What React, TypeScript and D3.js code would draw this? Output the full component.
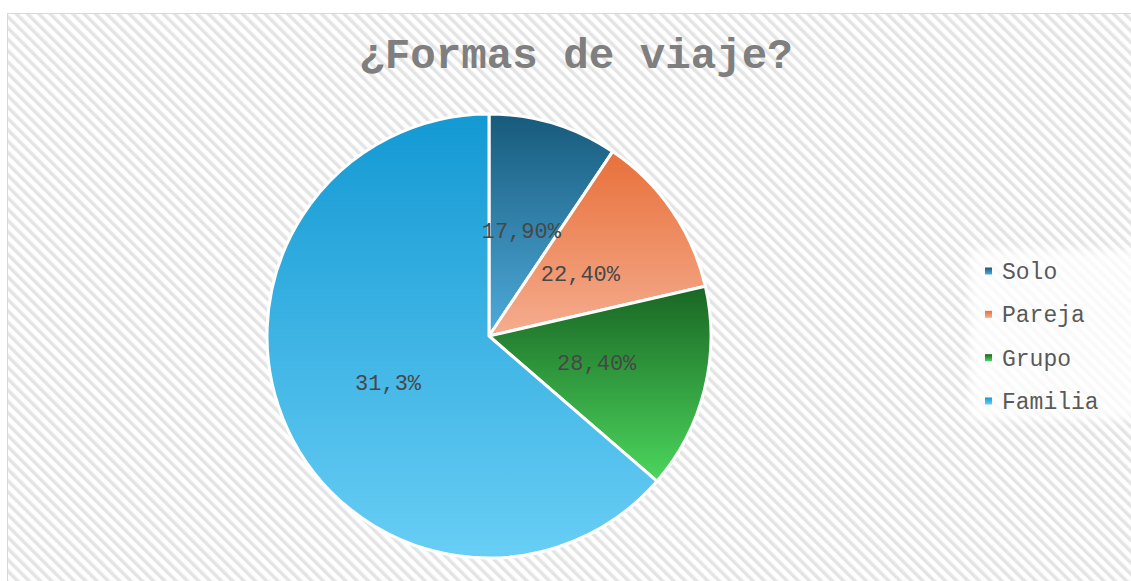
import React, { useEffect, useRef } from "react";
import * as d3 from "d3";

// slice shares
const categories = ["Solo", "Pareja", "Grupo", "Familia"];
const shares = [9.4, 12.0, 14.95, 63.65];
const labels = ["17,90%", "22,40%", "28,40%", "31,3%"];
const gradTop = ["#175a7c", "#e8703a", "#196623", "#1399d3"];
const gradBottom = ["#4fabdb", "#f5ad8f", "#4cd65d", "#68cef5"];

const W = 1131;
const H = 581;

export default function App() {
  const ref = useRef<SVGSVGElement | null>(null);

  useEffect(() => {
    if (!ref.current) return;
    const svg = d3.select(ref.current);
    svg.selectAll("*").remove();

    const defs = svg.append("defs");

    // diagonal hatch background (downward diagonal)
    const pat = defs
      .append("pattern")
      .attr("id", "hatch")
      .attr("patternUnits", "userSpaceOnUse")
      .attr("width", 8)
      .attr("height", 8)
      .attr("patternTransform", "rotate(-45)");
    pat.append("rect").attr("width", 8).attr("height", 8).attr("fill", "#ffffff");
    pat
      .append("rect")
      .attr("width", 3.5)
      .attr("height", 8)
      .attr("fill", "#e4e4e4");

    categories.forEach((c, i) => {
      const g = defs
        .append("linearGradient")
        .attr("id", "g" + i)
        .attr("x1", 0)
        .attr("y1", 0)
        .attr("x2", 0)
        .attr("y2", 1);
      g.append("stop").attr("offset", "0%").attr("stop-color", gradTop[i]);
      g.append("stop").attr("offset", "100%").attr("stop-color", gradBottom[i]);
    });

    const blur = defs.append("filter").attr("id", "soft").attr("x", "-20%").attr("y", "-20%").attr("width", "140%").attr("height", "140%");
    blur.append("feGaussianBlur").attr("stdDeviation", 5);

    // chart area
    svg.append("rect").attr("width", W).attr("height", H).attr("fill", "#ffffff");
    svg
      .append("rect")
      .attr("x", 7.5)
      .attr("y", 13.5)
      .attr("width", W)
      .attr("height", H)
      .attr("fill", "url(#hatch)")
      .attr("stroke", "#d9d9d9")
      .attr("stroke-width", 1);

    // title
    svg
      .append("text")
      .attr("x", 576)
      .attr("y", 68)
      .attr("text-anchor", "middle")
      .attr("font-family", "'Liberation Mono', 'Courier New', monospace")
      .attr("font-weight", "bold")
      .attr("font-size", 42.5)
      .attr("fill", "#7f7f7f")
      .text("¿Formas de viaje?");

    // pie
    const cx = 489;
    const cy = 336;
    const R = 222;
    const pie = d3.pie<number>().sort(null).value((d) => d);
    const arc = d3.arc<d3.PieArcDatum<number>>().innerRadius(0).outerRadius(R);
    const arcs = pie(shares);

    const gPie = svg.append("g").attr("transform", `translate(${cx},${cy})`);
    gPie
      .selectAll("path")
      .data(arcs)
      .enter()
      .append("path")
      .attr("d", arc)
      .attr("fill", (d, i) => `url(#g${i})`)
      .attr("stroke", "#ffffff")
      .attr("stroke-width", 3)
      .attr("stroke-linejoin", "round");

    gPie
      .selectAll("text")
      .data(arcs)
      .enter()
      .append("text")
      .attr("x", (d) => arc.centroid(d)[0])
      .attr("y", (d) => arc.centroid(d)[1])
      .attr("dy", "0.35em")
      .attr("text-anchor", "middle")
      .attr("font-family", "'Liberation Mono', 'Courier New', monospace")
      .attr("font-size", 22)
      .attr("fill", "#474747")
      .text((d, i) => labels[i]);

    // legend
    const legY = d3
      .scalePoint<string>()
      .domain(categories)
      .range([271, 401]);

    svg
      .append("rect")
      .attr("x", 970)
      .attr("y", 250)
      .attr("width", 175)
      .attr("height", 170)
      .attr("fill", "#ffffff")
      .attr("opacity", 0.8)
      .attr("filter", "url(#soft)");

    const leg = svg
      .selectAll("g.leg")
      .data(categories)
      .enter()
      .append("g")
      .attr("class", "leg")
      .attr("transform", (d) => `translate(985,${legY(d)})`);
    leg
      .append("rect")
      .attr("x", 0)
      .attr("y", -3.5)
      .attr("width", 7)
      .attr("height", 7)
      .attr("fill", (d, i) => `url(#g${i})`);
    leg
      .append("text")
      .attr("x", 17)
      .attr("y", 0)
      .attr("dy", "0.35em")
      .attr("font-family", "'Liberation Mono', 'Courier New', monospace")
      .attr("font-size", 23)
      .attr("fill", "#595959")
      .text((d) => d);
  }, []);

  return (
    <svg
      ref={ref}
      width={W}
      height={H}
      style={{ position: "absolute", left: 0, top: 0, display: "block" }}
    />
  );
}
